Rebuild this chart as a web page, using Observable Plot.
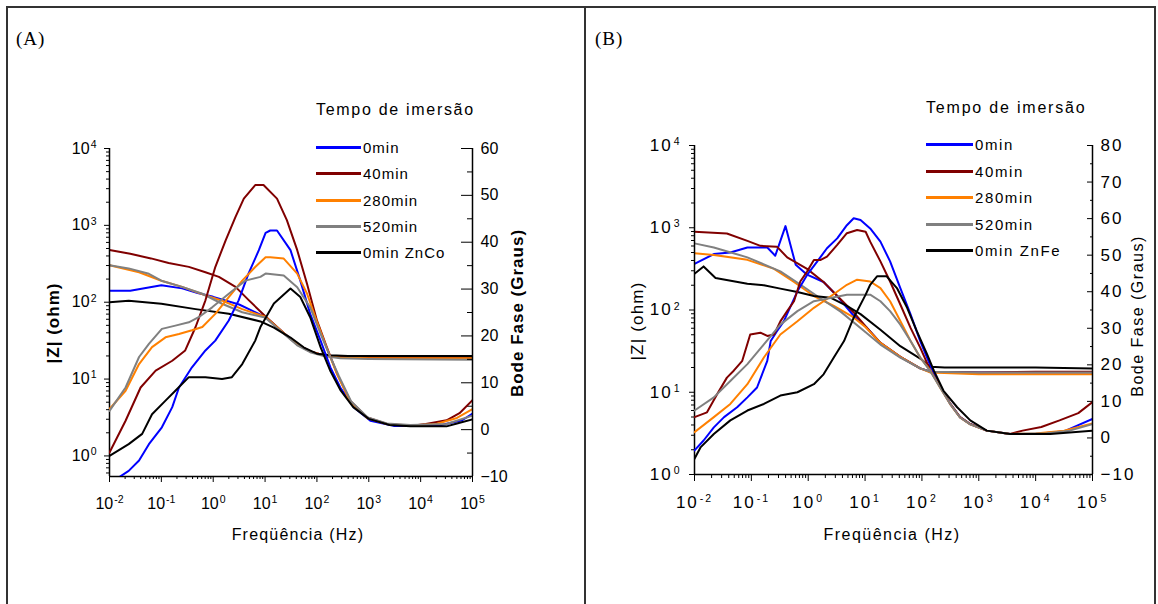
<!DOCTYPE html>
<html><head><meta charset="utf-8">
<script src="https://cdn.jsdelivr.net/npm/d3@7"></script>
<script src="https://cdn.jsdelivr.net/npm/@observablehq/plot@0.6"></script>
<style>
body{margin:0;background:#fff;}
#root{position:relative;width:1158px;height:604px;overflow:hidden;background:#fff;font-family:"Liberation Sans",Arial,sans-serif;color:#000;}
.layer{position:absolute;left:0;top:0;width:1158px;height:604px;}
.txt{position:absolute;white-space:nowrap;line-height:1;}
</style></head><body><div id="root"></div>
<script>
// ---------- categories / colours ----------
const namesA = ["0min", "40min", "280min", "520min", "0min ZnCo"];
const namesB = ["0min", "40min", "280min", "520min", "0min ZnFe"];
const seriesColors = ["#0000ff", "#800000", "#ff8000", "#808080", "#000000"];

// ---------- Panel A : [log10 frequency (Hz), log10 |Z| (ohm)] ----------
const zA_0min   = [[-2,2.15],[-1.6,2.15],[-1.0,2.22],[-0.6,2.18],[-0.3,2.12],[0,2.07],[0.5,1.97],[1.0,1.81],[1.36,1.60],[1.62,1.45],[1.87,1.36],[2.13,1.31],[2.45,1.29],[3,1.28],[4,1.27],[5,1.27]];
const zA_40min  = [[-2,2.68],[-1.6,2.63],[-1.2,2.57],[-0.86,2.51],[-0.47,2.46],[-0.15,2.39],[0.11,2.33],[0.43,2.20],[0.68,2.03],[1.0,1.82],[1.36,1.60],[1.62,1.45],[1.87,1.36],[2.13,1.31],[2.45,1.29],[3,1.28],[4,1.28],[5,1.28]];
const zA_280min = [[-2,2.48],[-1.43,2.39],[-1.0,2.28],[-0.6,2.20],[-0.15,2.09],[0.17,2.02],[0.56,1.91],[1.0,1.81],[1.36,1.60],[1.62,1.45],[1.87,1.36],[2.13,1.31],[2.45,1.28],[3,1.27],[5,1.27]];
const zA_520min = [[-2,2.48],[-1.63,2.44],[-1.24,2.37],[-1.0,2.28],[-0.6,2.20],[-0.21,2.11],[0.17,1.98],[0.56,1.87],[1.0,1.80],[1.36,1.59],[1.62,1.44],[1.87,1.35],[2.13,1.30],[2.45,1.27],[3,1.26],[5,1.25]];
const zA_ZnCo   = [[-2,2.0],[-1.63,2.02],[-1.0,1.98],[-0.34,1.91],[0.3,1.85],[0.91,1.75],[1.17,1.67],[1.49,1.54],[1.75,1.41],[2.0,1.33],[2.26,1.31],[2.6,1.30],[5,1.30]];

// ---------- Panel A : [log10 frequency (Hz), phase (degrees)] ----------
const phA_0min   = [[-2,-11.5],[-1.63,-8.8],[-1.43,-6.6],[-1.24,-3.1],[-0.99,0.5],[-0.79,4.8],[-0.66,9.0],[-0.41,13.3],[-0.15,16.9],[0.04,19.0],[0.30,23.3],[0.49,27.6],[0.68,33.3],[0.88,38.3],[1.01,42.0],[1.10,42.5],[1.23,42.5],[1.49,38.3],[1.68,31.8],[1.87,24.7],[2.07,19.0],[2.26,13.3],[2.45,9.0],[2.71,4.8],[3.03,1.9],[3.48,0.8],[4.0,0.8],[4.4,1.0],[4.8,2.0],[5,3.4]];
const phA_40min  = [[-2,-4.9],[-1.69,1.9],[-1.40,9.0],[-1.11,12.6],[-0.79,14.7],[-0.54,16.9],[-0.34,21.9],[-0.15,27.6],[0.04,34.7],[0.24,40.4],[0.43,45.4],[0.59,49.3],[0.81,52.2],[0.97,52.2],[1.23,49.3],[1.42,44.7],[1.62,38.3],[1.81,31.1],[2.0,23.3],[2.19,17.6],[2.39,11.9],[2.64,6.2],[2.97,2.6],[3.35,1.2],[3.8,0.8],[4.1,1.2],[4.5,2.0],[4.75,3.5],[5,6.3]];
const phA_280min = [[-2,4.4],[-1.69,8.3],[-1.43,14.0],[-1.18,17.6],[-0.92,19.7],[-0.66,20.4],[-0.41,21.2],[-0.21,21.9],[0.04,24.7],[0.30,28.3],[0.56,31.8],[0.81,34.7],[1.01,36.8],[1.10,36.8],[1.36,36.5],[1.62,33.3],[1.81,29.0],[2.0,23.0],[2.19,17.4],[2.39,11.8],[2.64,6.0],[2.97,2.5],[3.35,1.2],[3.8,0.9],[4.3,1.2],[4.7,2.5],[5,4.4]];
const phA_520min = [[-2,4.0],[-1.69,9.0],[-1.43,15.5],[-1.24,18.3],[-0.99,21.5],[-0.73,22.2],[-0.47,22.9],[-0.28,24.0],[-0.02,26.1],[0.30,29.0],[0.62,31.8],[0.91,32.6],[1.01,33.3],[1.36,32.9],[1.62,30.4],[1.87,26.1],[2.05,21.0],[2.22,16.5],[2.42,11.5],[2.66,6.0],[2.98,2.6],[3.35,1.3],[3.8,1.0],[4.5,1.2],[5,3.0]];
const phA_ZnCo   = [[-2,-5.6],[-1.63,-3.1],[-1.37,-0.9],[-1.18,3.3],[-0.92,6.2],[-0.73,8.3],[-0.47,11.2],[-0.15,11.2],[0.17,10.8],[0.36,11.2],[0.56,14.0],[0.81,19.0],[0.91,21.9],[1.17,26.9],[1.49,30.1],[1.68,28.3],[1.87,24.0],[2.07,17.6],[2.26,12.5],[2.45,8.5],[2.7,4.8],[3.0,2.3],[3.4,1.0],[3.8,0.7],[4.5,0.7],[4.7,1.3],[5,2.2]];

// ---------- Panel B : [log10 frequency (Hz), log10 |Z| (ohm)] ----------
const zB_0min   = [[-2,2.56],[-1.66,2.68],[-1.37,2.70],[-1.07,2.76],[-0.72,2.76],[-0.58,2.66],[-0.40,3.02],[-0.22,2.55],[-0.02,2.43],[0.27,2.34],[0.51,2.17],[0.80,1.93],[1.01,1.80],[1.27,1.60],[1.62,1.43],[1.97,1.29],[2.15,1.25],[3,1.24],[4,1.24],[5,1.24]];
const zB_40min  = [[-2,2.95],[-1.43,2.93],[-1.07,2.84],[-0.84,2.78],[-0.55,2.77],[-0.37,2.64],[-0.02,2.50],[0.27,2.34],[0.57,2.13],[0.80,1.97],[1.01,1.80],[1.27,1.60],[1.62,1.43],[1.97,1.29],[2.15,1.25],[3,1.24],[4,1.25],[5,1.25]];
const zB_280min = [[-2,2.69],[-1.66,2.67],[-1.07,2.61],[-0.60,2.50],[-0.25,2.34],[0.10,2.17],[0.45,2.05],[0.80,1.91],[1.01,1.79],[1.27,1.60],[1.62,1.43],[1.97,1.29],[2.15,1.24],[3,1.22],[4,1.22],[5,1.22]];
const zB_520min = [[-2,2.81],[-1.66,2.76],[-1.07,2.64],[-0.49,2.47],[-0.14,2.31],[0.22,2.14],[0.57,1.98],[1.01,1.73],[1.27,1.58],[1.62,1.42],[1.97,1.29],[2.15,1.25],[3,1.24],[5,1.24]];
const zB_ZnFe   = [[-2,2.44],[-1.84,2.53],[-1.63,2.39],[-1.07,2.32],[-0.78,2.30],[-0.49,2.26],[-0.19,2.22],[0.10,2.17],[0.39,2.15],[0.68,2.05],[0.92,1.95],[1.27,1.76],[1.62,1.56],[1.97,1.41],[2.15,1.31],[2.4,1.30],[3,1.30],[4,1.30],[5,1.29]];

// ---------- Panel B : [log10 frequency (Hz), phase (degrees)] ----------
const phB_0min   = [[-2,-3.4],[-1.84,-0.7],[-1.66,2.9],[-1.48,5.7],[-1.25,8.4],[-1.07,11.1],[-0.90,13.8],[-0.72,21.1],[-0.66,26.5],[-0.55,29.2],[-0.43,31.9],[-0.19,40.1],[-0.02,44.6],[0.16,48.3],[0.33,51.9],[0.51,54.6],[0.68,58.2],[0.80,60.1],[0.92,59.6],[1.09,57.3],[1.27,53.7],[1.44,48.3],[1.62,41.0],[1.80,33.8],[1.97,26.5],[2.15,19.7],[2.33,13.8],[2.5,9.3],[2.67,5.7],[2.85,3.8],[3.14,2.0],[3.55,1.1],[4.0,1.1],[4.5,1.8],[5,5.2]];
const phB_40min  = [[-2,5.7],[-1.78,7.0],[-1.60,12.0],[-1.43,16.5],[-1.31,18.4],[-1.16,21.1],[-1.02,28.3],[-0.84,28.8],[-0.72,27.9],[-0.60,28.3],[-0.49,31.9],[-0.37,34.7],[-0.25,37.4],[-0.14,42.8],[-0.02,45.5],[0.10,48.7],[0.22,48.7],[0.33,49.6],[0.51,52.8],[0.68,56.0],[0.86,56.9],[1.01,56.4],[1.09,53.7],[1.27,48.3],[1.44,42.8],[1.62,36.5],[1.80,30.1],[1.97,24.7],[2.15,18.4],[2.33,13.8],[2.50,9.3],[2.67,5.7],[2.85,3.8],[3.14,2.0],[3.55,1.1],[3.77,2.0],[4.1,3.0],[4.42,4.8],[4.75,6.8],[5,9.8]];
const phB_280min = [[-2,1.6],[-1.66,5.7],[-1.37,9.3],[-1.07,14.7],[-0.78,22.0],[-0.49,28.3],[-0.19,31.9],[0.10,35.6],[0.39,38.7],[0.68,41.9],[0.86,43.3],[1.09,42.8],[1.27,41.0],[1.44,37.4],[1.62,32.0],[1.80,26.5],[1.97,22.0],[2.15,18.4],[2.33,13.5],[2.5,9.2],[2.67,5.6],[2.85,3.7],[3.14,2.0],[3.55,1.1],[4.0,1.2],[4.5,2.0],[5,4.0]];
const phB_520min = [[-2,7.5],[-1.66,11.1],[-1.37,15.6],[-1.07,20.2],[-0.78,25.6],[-0.49,31.0],[-0.19,34.7],[0.10,37.4],[0.39,38.3],[0.68,39.2],[0.92,39.2],[1.09,39.2],[1.27,37.4],[1.44,34.7],[1.62,31.0],[1.80,26.5],[1.97,22.0],[2.15,18.2],[2.33,13.5],[2.5,9.2],[2.67,5.6],[2.85,3.7],[3.14,2.0],[3.55,1.1],[4.2,1.3],[4.6,2.0],[5,3.8]];
const phB_ZnFe   = [[-2,-5.7],[-1.89,-2.5],[-1.66,1.1],[-1.37,4.8],[-1.07,7.5],[-0.78,9.3],[-0.49,11.6],[-0.19,12.5],[0.10,14.7],[0.27,17.4],[0.45,22.0],[0.63,26.5],[0.80,32.9],[1.01,39.2],[1.09,41.9],[1.21,44.2],[1.38,44.2],[1.56,41.0],[1.74,35.6],[1.91,29.2],[2.09,22.9],[2.21,18.4],[2.38,12.9],[2.62,8.4],[2.85,4.8],[3.14,2.0],[3.55,1.1],[4.26,1.1],[5,2.0]];

// ---------- ticks ----------
const freqMajor = [1e-2, 1e-1, 1, 10, 100, 1e3, 1e4, 1e5];
const freqMinor = freqMajor.slice(0, -1).flatMap(d => [2,3,4,5,6,7,8,9].map(m => m * d));
const zMajor = [1, 10, 100, 1000, 10000];
const zMinor = [0.6, 0.7, 0.8, 0.9].concat(zMajor.slice(0, -1).flatMap(d => [2,3,4,5,6,7,8,9].map(m => m * d)));
const phMajorA = [-10, 0, 10, 20, 30, 40, 50, 60];
const phMinorA = [-5, 5, 15, 25, 35, 45, 55];
const phMajorB = [-10, 0, 10, 20, 30, 40, 50, 60, 70, 80];
const phMinorB = [-5, 5, 15, 25, 35, 45, 55, 65, 75];

const W = 1158, H = 604;
const root = document.getElementById("root");
const supFmt = d => "10^" + Math.round(Math.log10(d));

const panels = [
  { id: "(A)", names: namesA, z: [zA_0min, zA_40min, zA_280min, zA_520min, zA_ZnCo],
    ph: [phA_0min, phA_40min, phA_280min, phA_520min, phA_ZnCo],
    frame: [109, 472, 148, 476], zDomain: [0.54, 1e4], pDomain: [-10, 60],
    pMajor: phMajorA, pMinor: phMinorA, rMaj: 12, rMin: 6, lMaj: 5, lMin: 3, bMaj: 6, bMin: 3,
    tickFont: 16, supFont: 10.5, ls: 0, rightFont: 16,
    panelLeft: 16, legendX: 316, legendLine: 45, legendTitleY: 110, legendYs: [147, 173, 200, 226, 252],
    legendFont: 15, legendLs: 1, titleLs: 1.7,
    zLabel: { x: 53, y: 323, bold: true, size: 17, ls: 1 },
    pLabel: { x: 517, y: 313, bold: true, size: 17, ls: 1 },
    fLabel: { x: 298, y: 535, size: 16, ls: 1.2 } },
  { id: "(B)", names: namesB, z: [zB_0min, zB_40min, zB_280min, zB_520min, zB_ZnFe],
    ph: [phB_0min, phB_40min, phB_280min, phB_520min, phB_ZnFe],
    frame: [694, 1092, 145, 474], zDomain: [1, 1e4], pDomain: [-10, 80],
    pMajor: phMajorB, pMinor: phMinorB, rMaj: 6, rMin: 3, lMaj: 5, lMin: 3, bMaj: 7, bMin: 4,
    tickFont: 17, supFont: 10.5, ls: 2, rightFont: 17,
    panelLeft: 595, legendX: 926, legendLine: 47, legendTitleY: 108, legendYs: [144, 171, 197, 224, 250],
    legendFont: 15, legendLs: 1.6, titleLs: 1.8,
    zLabel: { x: 637, y: 321, bold: false, size: 17, ls: 1.2 },
    pLabel: { x: 1138, y: 316, bold: false, size: 16, ls: 1.5 },
    fLabel: { x: 892, y: 535, size: 16, ls: 1.5 } }
];

function supify(svg, p) {
  svg.querySelectorAll("text").forEach(t => {
    if (p.ls) t.setAttribute("letter-spacing", p.ls);
    const m = /^10\^(-?\d+)$/.exec(t.textContent);
    if (m) {
      t.textContent = "10";
      const ts = document.createElementNS("http://www.w3.org/2000/svg", "tspan");
      ts.setAttribute("dy", "-0.55em");
      ts.setAttribute("dx", "1");
      ts.setAttribute("font-size", p.supFont);
      ts.textContent = m[1];
      t.appendChild(ts);
    }
  });
}

function addLayer(svg) {
  const d = document.createElement("div");
  d.className = "layer";
  d.appendChild(svg);
  root.appendChild(d);
}

function addText(str, x, y, o = {}) {
  const d = document.createElement("div");
  d.className = "txt";
  d.textContent = str;
  d.style.left = x + "px";
  d.style.top = y + "px";
  d.style.fontSize = (o.size || 15) + "px";
  if (o.family) d.style.fontFamily = o.family;
  if (o.bold) d.style.fontWeight = "bold";
  if (o.ls) d.style.letterSpacing = o.ls + "px";
  let tr = o.center ? "translate(-50%,-50%)" : "translate(0,-50%)";
  if (o.rotate) tr += " rotate(-90deg)";
  d.style.transform = tr;
  root.appendChild(d);
  return d;
}

const baseStyle = { background: "transparent", overflow: "visible", fontFamily: "'Liberation Sans', Arial, sans-serif", fontSize: "16px", color: "#000" };

for (const p of panels) {
  const [x0, x1, y0, y1] = p.frame;
  const dims = { width: W, height: H, marginLeft: x0, marginRight: W - x1, marginTop: y0, marginBottom: H - y1 };

  // |Z| plot (log y) with bottom and left axes
  const zPlot = Plot.plot({
    ...dims, style: baseStyle,
    x: { type: "log", domain: [1e-2, 1e5], label: null },
    y: { type: "log", domain: p.zDomain, label: null },
    marks: [
      Plot.axisX(freqMinor, { tickSize: p.bMin, tickFormat: () => "", label: null }),
      Plot.axisX(freqMajor, { tickSize: p.bMaj, tickPadding: 21 - p.bMaj, tickFormat: supFmt, fontSize: p.tickFont, label: null }),
      Plot.axisY(zMinor.filter(v => v >= p.zDomain[0]), { anchor: "left", tickSize: p.lMin, tickFormat: () => "", label: null }),
      Plot.axisY(zMajor, { anchor: "left", tickSize: p.lMaj, tickPadding: 8, tickFormat: supFmt, fontSize: p.tickFont, label: null }),
      ...p.z.map((arr, i) => Plot.line(arr, { x: d => 10 ** d[0], y: d => 10 ** d[1], stroke: seriesColors[i], strokeWidth: 2, clip: true })),
      Plot.ruleX([1e-2], { stroke: "#000", strokeWidth: 1.5 }),
      Plot.ruleY([p.zDomain[0]], { stroke: "#000", strokeWidth: 1.5 })
    ]
  });
  supify(zPlot, p);
  addLayer(zPlot);

  // phase plot (linear y) with right axis
  const pPlot = Plot.plot({
    ...dims, style: baseStyle,
    x: { type: "log", domain: [1e-2, 1e5], axis: null, label: null },
    y: { domain: p.pDomain, label: null },
    marks: [
      Plot.axisY(p.pMinor, { anchor: "right", tickSize: -p.rMin, tickFormat: () => "", label: null }),
      Plot.axisY(p.pMajor, { anchor: "right", tickSize: -p.rMaj, tickPadding: p.rMaj + 8, fontSize: p.rightFont, label: null }),
      ...p.ph.map((arr, i) => Plot.line(arr, { x: d => 10 ** d[0], y: d => d[1], stroke: seriesColors[i], strokeWidth: 2, clip: true })),
      Plot.ruleX([1e5], { stroke: "#000", strokeWidth: 1.5 })
    ]
  });
  supify(pPlot, { ...p, ls: p.ls });
  addLayer(pPlot);

  // panel letter
  addText(p.id, p.panelLeft, 38, { size: 19, family: "'Liberation Serif', serif", ls: 1 });
  // legend
  addText("Tempo de imersão", p.legendX, p.legendTitleY, { size: 16, ls: p.titleLs });
  p.names.forEach((n, i) => {
    const ln = document.createElement("div");
    ln.style.cssText = `position:absolute;left:${p.legendX}px;top:${p.legendYs[i] - 1.5}px;width:${p.legendLine}px;height:3px;background:${seriesColors[i]};`;
    root.appendChild(ln);
    addText(n, p.legendX + p.legendLine + 2, p.legendYs[i], { size: p.legendFont, ls: p.legendLs });
  });
  // axis titles
  addText("|Z| (ohm)", p.zLabel.x, p.zLabel.y, { center: true, rotate: true, bold: p.zLabel.bold, size: p.zLabel.size, ls: p.zLabel.ls });
  addText("Bode Fase (Graus)", p.pLabel.x, p.pLabel.y, { center: true, rotate: true, bold: p.pLabel.bold, size: p.pLabel.size, ls: p.pLabel.ls });
  addText("Freqüência (Hz)", p.fLabel.x, p.fLabel.y, { center: true, size: p.fLabel.size, ls: p.fLabel.ls });
}

// outer frame and divider
const borders = [
  "left:6px;top:6px;width:1149px;height:2px;",
  "left:6px;top:6px;width:2px;height:600px;",
  "left:584px;top:6px;width:2px;height:600px;",
  "left:1154px;top:6px;width:2px;height:600px;"
];
for (const b of borders) {
  const d = document.createElement("div");
  d.style.cssText = "position:absolute;background:#333;" + b;
  root.appendChild(d);
}
</script></body></html>
